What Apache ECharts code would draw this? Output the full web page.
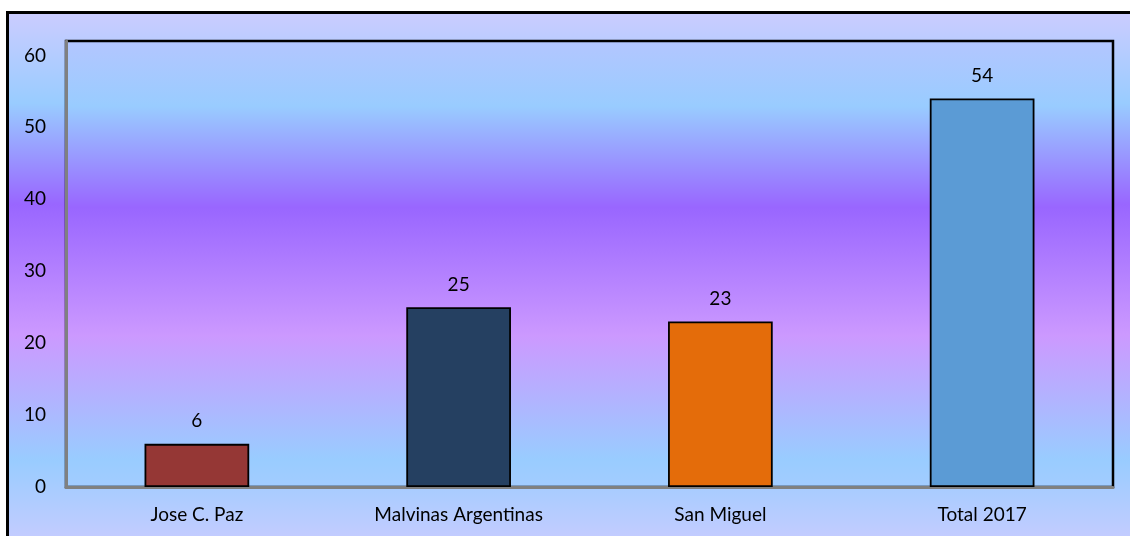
<!DOCTYPE html>
<html>
<head>
<meta charset="utf-8">
<script src="https://cdn.jsdelivr.net/npm/echarts@6/dist/echarts.min.js"></script>
<style>
html,body{margin:0;padding:0;background:#fff;}
#chart{width:1130px;height:536px;}
</style>
</head>
<body>
<div id="chart"></div>
<script>
const categories = ['Jose C. Paz', 'Malvinas Argentinas', 'San Miguel', 'Total 2017'];
const values = [6, 25, 23, 54];
const barColors = ['#953735', '#254061', '#E46C0A', '#5B9BD5'];
const yMin = 0;
const yMax = 62;
const yInterval = 10;

const chart = echarts.init(document.getElementById('chart'), null, {renderer: 'canvas'});
const font = 'Lato, "Noto Sans", sans-serif';

const outerGradient = new echarts.graphic.LinearGradient(0, 0, 0, 1, [
  {offset: 0, color: '#ccccff'},
  {offset: 0.17, color: '#99ccff'},
  {offset: 0.356, color: '#9966ff'},
  {offset: 0.596, color: '#cc99ff'},
  {offset: 0.828, color: '#99ccff'},
  {offset: 1, color: '#ccccff'}
]);
const gridGradient = new echarts.graphic.LinearGradient(0, 0, 0, 1, [
  {offset: 0, color: '#b4c6ff'},
  {offset: 0.148, color: '#99ccff'},
  {offset: 0.374, color: '#9966ff'},
  {offset: 0.66, color: '#cc99ff'},
  {offset: 0.935, color: '#99ccff'},
  {offset: 1, color: '#a3ccff'}
]);

chart.setOption({
  backgroundColor: 'transparent',
  animation: false,
  graphic: [{
    type: 'rect',
    z: -100,
    silent: true,
    shape: {x: 7.5, y: 12.5, width: 1200, height: 540},
    style: {fill: outerGradient, stroke: '#000', lineWidth: 3}
  }],
  grid: {
    left: 66, right: 17, top: 41, bottom: 49,
    show: true,
    backgroundColor: gridGradient,
    borderColor: '#000',
    borderWidth: 2.5
  },
  xAxis: {
    type: 'category',
    data: categories,
    axisTick: {show: false},
    axisLine: {show: true, lineStyle: {color: '#808080', width: 3}},
    axisLabel: {color: '#000', fontFamily: font, fontSize: 19, margin: 18}
  },
  yAxis: {
    type: 'value',
    min: yMin, max: yMax, interval: yInterval,
    splitLine: {show: false},
    axisTick: {show: false},
    axisLine: {show: true, lineStyle: {color: '#808080', width: 3}},
    axisLabel: {
      color: '#000', fontFamily: font, fontSize: 19, margin: 20,
      showMaxLabel: false,
      formatter: v => (v % yInterval === 0 ? String(v) : '')
    }
  },
  series: [{
    type: 'bar',
    barWidth: '40%',
    data: values.map((v, i) => ({value: v, itemStyle: {color: barColors[i]}})),
    itemStyle: {borderColor: '#000', borderWidth: 1.8},
    label: {show: true, position: 'top', distance: 13, color: '#000', fontFamily: font, fontSize: 19}
  }]
});
</script>
</body>
</html>
